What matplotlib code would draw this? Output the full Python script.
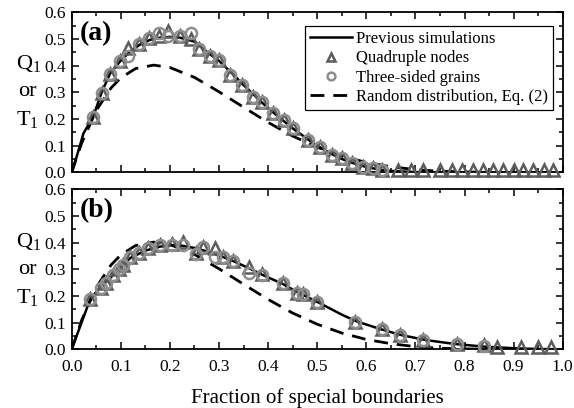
import matplotlib
matplotlib.use("Agg")
import matplotlib.pyplot as plt
from matplotlib.ticker import MultipleLocator

plt.rcParams['font.family'] = ['Liberation Serif', 'DejaVu Serif']
plt.rcParams['font.serif'] = ['Liberation Serif', 'DejaVu Serif']
plt.rcParams['mathtext.fontset'] = 'custom'
plt.rcParams['mathtext.rm'] = 'Liberation Serif'
plt.rcParams['mathtext.it'] = 'Liberation Serif:italic'

# ---------------- data: panel (a) ----------------
a_sim_x = [0.0, 0.01, 0.024, 0.044, 0.061, 0.078, 0.098, 0.12, 0.14, 0.16, 0.18, 0.2, 0.22,
           0.25, 0.28, 0.30, 0.33, 0.35, 0.38, 0.40, 0.43, 0.45, 0.48, 0.50, 0.53, 0.55,
           0.58, 0.60, 0.63, 0.65, 0.70, 0.75, 0.80, 0.90, 1.0]
a_sim_y = [0.0, 0.058, 0.146, 0.21, 0.30, 0.37, 0.415, 0.455, 0.48, 0.497, 0.505, 0.508, 0.505,
           0.49, 0.445, 0.418, 0.365, 0.327, 0.275, 0.24, 0.195, 0.165, 0.125, 0.10, 0.068, 0.05,
           0.03, 0.02, 0.009, 0.005, 0.001, 0.0, 0.0, 0.0, 0.0]

a_quad_x = [0.044, 0.061, 0.078, 0.098, 0.115, 0.138, 0.158, 0.178, 0.197, 0.22, 0.242, 0.26,
            0.282, 0.299, 0.322, 0.346, 0.37, 0.387, 0.41, 0.433, 0.451, 0.482, 0.506, 0.53,
            0.55, 0.57, 0.594, 0.614, 0.631, 0.665, 0.692, 0.716, 0.75, 0.774, 0.794, 0.818,
            0.838, 0.859, 0.879, 0.90, 0.92, 0.94, 0.961, 0.981]
a_quad_y = [0.208, 0.296, 0.369, 0.417, 0.466, 0.48, 0.502, 0.51, 0.531, 0.511, 0.50, 0.461,
            0.437, 0.421, 0.365, 0.327, 0.283, 0.265, 0.221, 0.196, 0.165, 0.121, 0.096, 0.065,
            0.052, 0.034, 0.021, 0.015, 0.01, 0.01, 0.01, 0.01, 0.01, 0.01, 0.01, 0.01,
            0.01, 0.01, 0.01, 0.01, 0.01, 0.01, 0.01, 0.01]

a_three_x = [0.044, 0.061, 0.078, 0.098, 0.115, 0.138, 0.158, 0.178, 0.197, 0.22, 0.242, 0.26,
             0.282, 0.299, 0.322, 0.346, 0.37, 0.387, 0.41, 0.433, 0.451, 0.482, 0.506, 0.53,
             0.55, 0.57, 0.594, 0.614, 0.631]
a_three_y = [0.208, 0.296, 0.369, 0.417, 0.436, 0.48, 0.502, 0.524, 0.51, 0.511, 0.521, 0.461,
             0.437, 0.421, 0.365, 0.327, 0.283, 0.265, 0.221, 0.196, 0.165, 0.121, 0.096, 0.065,
             0.052, 0.034, 0.021, 0.015, 0.009]

# ---------------- data: panel (b) ----------------
b_sim_x = [0.0, 0.038, 0.06, 0.08, 0.10, 0.12, 0.15, 0.18, 0.20, 0.22, 0.25, 0.28, 0.30,
           0.33, 0.36, 0.39, 0.43, 0.46, 0.50, 0.55, 0.58, 0.63, 0.67, 0.72, 0.78, 0.84,
           0.90, 0.95, 1.0]
b_sim_y = [0.0, 0.19, 0.235, 0.27, 0.31, 0.343, 0.37, 0.385, 0.39, 0.39, 0.38, 0.365, 0.352,
           0.33, 0.305, 0.278, 0.245, 0.214, 0.178, 0.13, 0.105, 0.075, 0.054, 0.035, 0.02, 0.01,
           0.004, 0.001, 0.0]

b_quad_x = [0.038, 0.059, 0.07, 0.085, 0.097, 0.105, 0.119, 0.138, 0.156, 0.18, 0.204, 0.227,
            0.253, 0.268, 0.292, 0.309, 0.329, 0.362, 0.387, 0.43, 0.458, 0.472, 0.499,
            0.577, 0.631, 0.669, 0.716, 0.785, 0.84, 0.866, 0.916, 0.95, 0.976]
b_quad_y = [0.19, 0.229, 0.247, 0.279, 0.30, 0.316, 0.347, 0.36, 0.379, 0.391, 0.395, 0.403,
            0.36, 0.385, 0.379, 0.347, 0.331, 0.308, 0.282, 0.247, 0.212, 0.206, 0.179,
            0.104, 0.075, 0.054, 0.035, 0.02, 0.016, 0.01, 0.01, 0.01, 0.01]

b_three_x = [0.038, 0.059, 0.07, 0.085, 0.097, 0.105, 0.119, 0.138, 0.156, 0.18, 0.204, 0.227,
             0.253, 0.268, 0.292, 0.309, 0.329, 0.362, 0.387, 0.43, 0.458, 0.472, 0.499,
             0.577, 0.631, 0.669, 0.716, 0.785, 0.84]
b_three_y = [0.19, 0.229, 0.247, 0.279, 0.30, 0.316, 0.347, 0.36, 0.379, 0.391, 0.392, 0.392,
             0.356, 0.385, 0.347, 0.347, 0.331, 0.285, 0.279, 0.247, 0.212, 0.206, 0.179,
             0.104, 0.075, 0.054, 0.035, 0.02, 0.014]

# ---------------- data: random distribution, Eq. (2) (same in both panels) ----------------
rand_x = [0.0, 0.02, 0.05, 0.08, 0.10, 0.13, 0.167, 0.20, 0.25, 0.30, 0.35, 0.40, 0.45,
          0.50, 0.55, 0.60, 0.65, 0.70, 0.75, 0.80, 0.85]
rand_y = [0.0, 0.108, 0.232, 0.316, 0.354, 0.389, 0.402, 0.393, 0.356, 0.302, 0.244, 0.187,
          0.136, 0.094, 0.061, 0.037, 0.021, 0.010, 0.004, 0.0015, 0.0]

xticks = [0.0, 0.1, 0.2, 0.3, 0.4, 0.5, 0.6, 0.7, 0.8, 0.9, 1.0]
yticks = [0.0, 0.1, 0.2, 0.3, 0.4, 0.5, 0.6]
panel_labels = ['(a)', '(b)']

SERIF = ['Liberation Serif', 'DejaVu Serif']

fig = plt.figure(figsize=(5.74, 4.08), dpi=100)
W, H = 574.0, 408.0
axA = fig.add_axes([71.7 / W, 1 - 172.3 / H, (562.7 - 71.7) / W, (172.3 - 12.3) / H])
axB = fig.add_axes([71.7 / W, 1 - 349.3 / H, (562.7 - 71.7) / W, (349.3 - 189.3) / H])

tri_col = '#5c5c5c'
circ_col = '#8e8e8e'
dash = (0, (5.0, 3.2))

def draw(ax, sx, sy, qx, qy, tx, ty, label):
    l1, = ax.plot(sx, sy, color='black', lw=1.8, zorder=3, label='Previous simulations')
    l4, = ax.plot(rand_x, rand_y, color='black', lw=2.0, linestyle=dash, zorder=3,
                  label='Random distribution, Eq. (2)')
    l2, = ax.plot(qx, qy, linestyle='none', marker='^', ms=8, mfc='none', mec=tri_col,
                  mew=1.8, zorder=4, clip_on=False, label='Quadruple nodes')
    l3, = ax.plot(tx, ty, linestyle='none', marker='o', ms=8, mfc='none', mec=circ_col,
                  mew=1.8, zorder=4, clip_on=False, label='Three-sided grains')
    ax.set_xlim(0, 1.0)
    ax.set_ylim(0, 0.6)
    ax.set_xticks(xticks)
    ax.set_yticks(yticks)
    ax.xaxis.set_minor_locator(MultipleLocator(0.05))
    ax.yaxis.set_minor_locator(MultipleLocator(0.05))
    ax.tick_params(which='both', direction='in', top=True, right=True, labelsize=12, width=1.1)
    ax.tick_params(which='major', length=5, pad=4)
    ax.tick_params(which='minor', length=3)
    ax.set_yticklabels(['%.1f' % v for v in yticks], fontfamily=SERIF, fontsize=12.5)
    for sp in ax.spines.values():
        sp.set_linewidth(1.3)
    ax.text(0.017, 0.945, label, transform=ax.transAxes, fontsize=20, fontweight='bold',
            va='top', ha='left', fontfamily=SERIF)
    return [l1, l2, l3, l4]

handles = draw(axA, a_sim_x, a_sim_y, a_quad_x, a_quad_y, a_three_x, a_three_y, panel_labels[0])
draw(axB, b_sim_x, b_sim_y, b_quad_x, b_quad_y, b_three_x, b_three_y, panel_labels[1])

axA.tick_params(labelbottom=False)
axB.set_xticklabels(['%.1f' % v for v in xticks], fontfamily=SERIF, fontsize=12.5)
axB.tick_params(axis='x', pad=7)

leg = axA.legend(handles=handles, loc='upper right', bbox_to_anchor=(0.9796, 0.914),
                 prop={'family': SERIF, 'size': 12}, frameon=True, fancybox=False,
                 edgecolor='black', framealpha=1, handlelength=2.5, handletextpad=0.25,
                 labelspacing=0.2, borderpad=0.3, borderaxespad=0.0, markerscale=0.7)
leg.get_frame().set_linewidth(0.9)

for ax, ycen in ((axA, 91.0), (axB, 270.0)):
    fig.text(16 / W, 1 - (ycen - 28) / H, r'Q$_{\mathrm{1}}$', fontsize=16, ha='left',
             va='center', fontfamily=SERIF)
    fig.text(27 / W, 1 - ycen / H, 'or', fontsize=16, ha='center', va='center', fontfamily=SERIF)
    fig.text(16 / W, 1 - (ycen + 28) / H, r'T$_{\mathrm{1}}$', fontsize=16, ha='left',
             va='center', fontfamily=SERIF)

fig.text(317 / W, 1 - 398 / H, 'Fraction of special boundaries', fontsize=15,
         ha='center', va='center', fontfamily=SERIF)

fig.savefig('out.png', dpi=100)
